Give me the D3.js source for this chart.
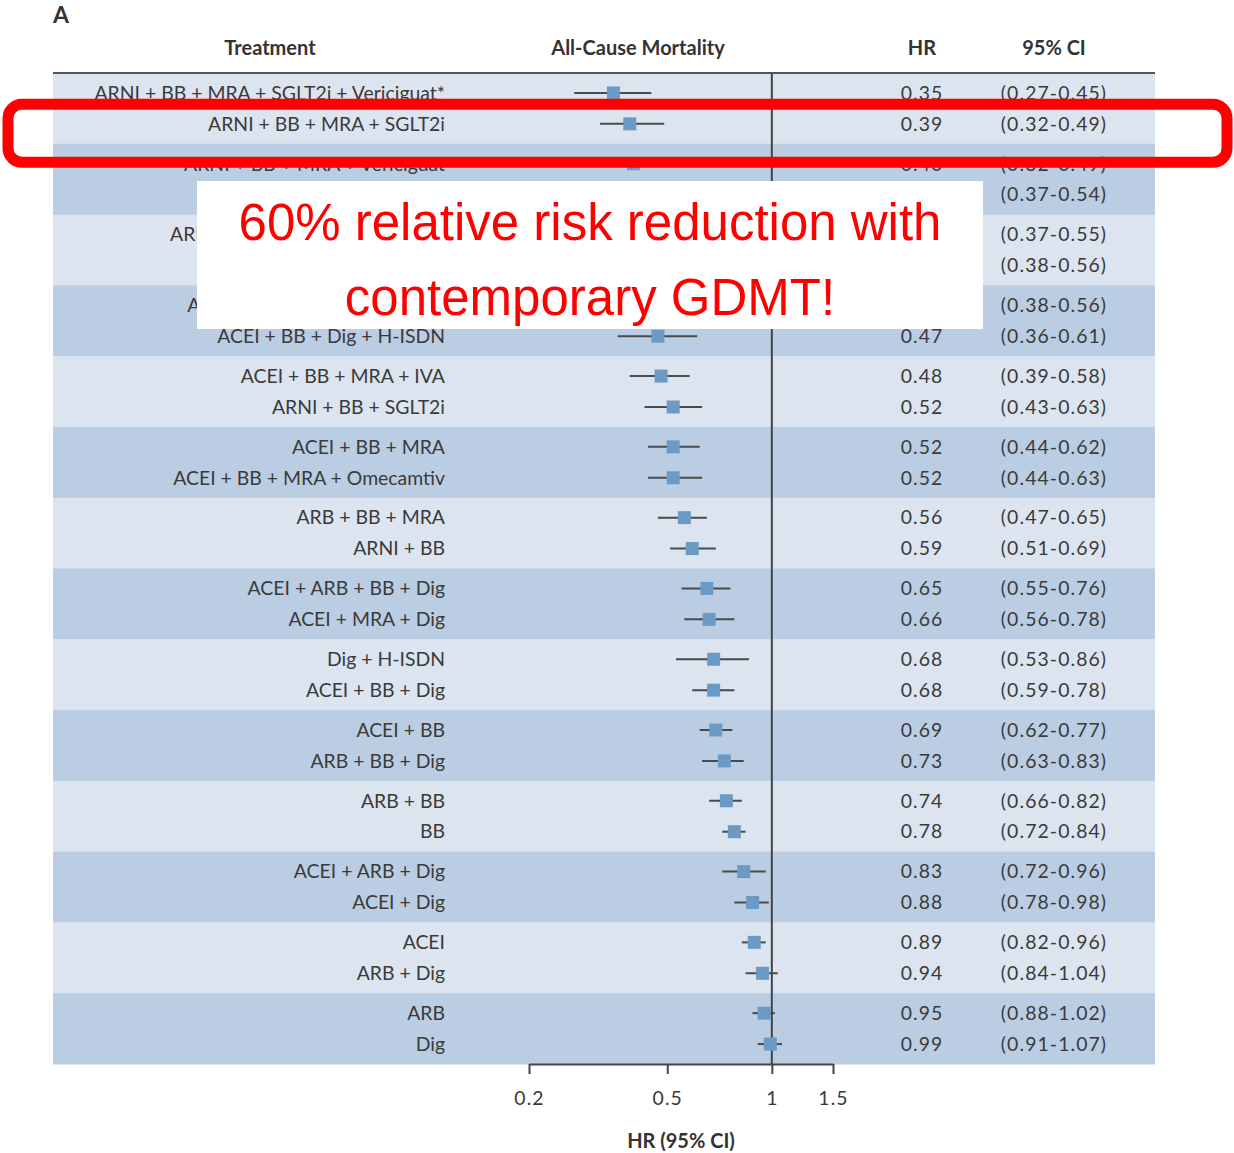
<!DOCTYPE html>
<html>
<head>
<meta charset="utf-8">
<script src="https://cdn.jsdelivr.net/npm/d3@7"></script>
<style>
  body { margin: 0; background: #fff; }
  svg { display: block; }
</style>
</head>
<body>
<div id="chart"></div>
<script>
// rows, top to bottom
const treatments = [
  "ARNI + BB + MRA + SGLT2i + Vericiguat*",
  "ARNI + BB + MRA + SGLT2i",
  "ARNI + BB + MRA + Vericiguat",
  "ARNI + BB + MRA",
  "ARNI + BB + MRA + Omecamtiv",
  "ACEI + BB + MRA + SGLT2i",
  "ACEI + BB + MRA + Vericiguat",
  "ACEI + BB + Dig + H-ISDN",
  "ACEI + BB + MRA + IVA",
  "ARNI + BB + SGLT2i",
  "ACEI + BB + MRA",
  "ACEI + BB + MRA + Omecamtiv",
  "ARB + BB + MRA",
  "ARNI + BB",
  "ACEI + ARB + BB + Dig",
  "ACEI + MRA + Dig",
  "Dig + H-ISDN",
  "ACEI + BB + Dig",
  "ACEI + BB",
  "ARB + BB + Dig",
  "ARB + BB",
  "BB",
  "ACEI + ARB + Dig",
  "ACEI + Dig",
  "ACEI",
  "ARB + Dig",
  "ARB",
  "Dig"
];
const hr     = [0.35, 0.39, 0.40, 0.44, 0.45, 0.46, 0.46, 0.47, 0.48, 0.52, 0.52, 0.52, 0.56, 0.59,
                0.65, 0.66, 0.68, 0.68, 0.69, 0.73, 0.74, 0.78, 0.83, 0.88, 0.89, 0.94, 0.95, 0.99];
const ciLow  = [0.27, 0.32, 0.32, 0.37, 0.37, 0.38, 0.38, 0.36, 0.39, 0.43, 0.44, 0.44, 0.47, 0.51,
                0.55, 0.56, 0.53, 0.59, 0.62, 0.63, 0.66, 0.72, 0.72, 0.78, 0.82, 0.84, 0.88, 0.91];
const ciHigh = [0.45, 0.49, 0.49, 0.54, 0.55, 0.56, 0.56, 0.61, 0.58, 0.63, 0.62, 0.63, 0.65, 0.69,
                0.76, 0.78, 0.86, 0.78, 0.77, 0.83, 0.82, 0.84, 0.96, 0.98, 0.96, 1.04, 1.02, 1.07];
const xTicks = [0.2, 0.5, 1, 1.5];
const headers = ["Treatment", "All-Cause Mortality", "HR", "95% CI"];
const callout = ["60% relative risk reduction with", "contemporary GDMT!"];
const highlightRow = 1;

const width = 1234, height = 1153;
const table = { left: 53, right: 1155, top: 73, bottom: 1064 };
const col = { label: 445, hr: 922, ci: 1054 };
const font = "Lato, 'Open Sans', sans-serif";
const textColor = "#3a3a3a";
const numSpacing = "1.1px"; // digits in the source font run wider

const svg = d3.select("#chart").append("svg")
  .attr("width", width)
  .attr("height", height)
  .attr("viewBox", [0, 0, width, height]);

const x = d3.scaleLog().domain([0.2, 1.5]).range([529, 833]);

// rows come in pairs sharing a shaded band
const groups = d3.range(treatments.length / 2);
const band = d3.scaleBand().domain(groups).range([table.top, table.bottom]);
const inner = d3.scalePoint().domain([0, 1]).range([0, band.bandwidth()]).padding(0.645);
const rowY = i => band(Math.floor(i / 2)) + inner(i % 2);
const fmt = d3.format(".2f");

svg.selectAll("rect.band")
  .data(groups)
  .join("rect")
  .attr("class", "band")
  .attr("x", table.left)
  .attr("y", d => band(d))
  .attr("width", table.right - table.left)
  .attr("height", band.bandwidth() + 0.5)
  .attr("fill", d => d % 2 ? "#bacde2" : "#dce4ef");

// panel letter
svg.append("text")
  .attr("x", 53).attr("y", 23)
  .attr("font-family", font).attr("font-size", 23).attr("font-weight", 700)
  .attr("fill", "#333")
  .text("A");

// headers
const headerX = [270, 638, col.hr, col.ci];
svg.selectAll("text.header")
  .data(headers)
  .join("text")
  .attr("class", "header")
  .attr("x", (_, i) => headerX[i])
  .attr("y", 48)
  .attr("dy", "0.35em")
  .attr("text-anchor", "middle")
  .attr("font-family", font).attr("font-size", 20).attr("font-weight", 700)
  .attr("fill", "#333")
  .text(d => d);

svg.append("line")
  .attr("x1", table.left).attr("x2", table.right)
  .attr("y1", table.top).attr("y2", table.top)
  .attr("stroke", "#555").attr("stroke-width", 2);

// reference line at HR = 1
svg.append("line")
  .attr("x1", x(1)).attr("x2", x(1))
  .attr("y1", table.top).attr("y2", table.bottom)
  .attr("stroke", "#444").attr("stroke-width", 2);

// CI whiskers and point estimates
const rows = d3.range(treatments.length);
svg.selectAll("line.ci")
  .data(rows)
  .join("line")
  .attr("class", "ci")
  .attr("x1", i => x(ciLow[i])).attr("x2", i => x(ciHigh[i]))
  .attr("y1", i => rowY(i)).attr("y2", i => rowY(i))
  .attr("stroke", "#4a4a4a").attr("stroke-width", 2);

const size = 13;
svg.selectAll("rect.pt")
  .data(rows)
  .join("rect")
  .attr("class", "pt")
  .attr("x", i => x(hr[i]) - size / 2)
  .attr("y", i => rowY(i) - size / 2)
  .attr("width", size).attr("height", size)
  .attr("fill", "#6b9bc5");

// text columns
const rowText = (cls, anchor, xPos, spacing, fn) => svg.selectAll("text." + cls)
  .data(rows)
  .join("text")
  .attr("class", cls)
  .attr("x", xPos)
  .attr("y", i => rowY(i))
  .attr("dy", "0.35em")
  .attr("text-anchor", anchor)
  .attr("font-family", font).attr("font-size", 19.4)
  .attr("letter-spacing", spacing)
  .attr("fill", textColor)
  .text(fn);

rowText("label", "end", col.label, null, i => treatments[i]);
rowText("hr", "middle", col.hr, numSpacing, i => fmt(hr[i]));
rowText("cilab", "middle", col.ci, numSpacing, i => "(" + fmt(ciLow[i]) + "-" + fmt(ciHigh[i]) + ")");

// axis
const axis = svg.append("g")
  .attr("transform", "translate(0," + table.bottom + ")")
  .call(d3.axisBottom(x).tickValues(xTicks).tickFormat(d3.format("")).tickSize(10).tickSizeOuter(0).tickPadding(17));
axis.select(".domain").attr("stroke", "#444").attr("stroke-width", 2);
axis.selectAll(".tick line").attr("stroke", "#444").attr("stroke-width", 2);
axis.selectAll(".tick text")
  .attr("font-family", font).attr("font-size", 19.4)
  .attr("letter-spacing", numSpacing)
  .attr("fill", textColor);

svg.append("text")
  .attr("x", 681).attr("y", 1141)
  .attr("dy", "0.35em")
  .attr("text-anchor", "middle")
  .attr("font-family", font).attr("font-size", 20).attr("font-weight", 700)
  .attr("fill", "#333")
  .text("HR (95% CI)");

// annotation overlay
svg.append("rect")
  .attr("x", 8).attr("y", rowY(highlightRow) - 19.5)
  .attr("width", 1219).attr("height", 58)
  .attr("rx", 14)
  .attr("fill", "none")
  .attr("stroke", "#ff0000").attr("stroke-width", 11);

svg.append("rect")
  .attr("x", 197).attr("y", 181)
  .attr("width", 786).attr("height", 148)
  .attr("fill", "#fff");

svg.selectAll("text.callout")
  .data(callout)
  .join("text")
  .attr("class", "callout")
  .attr("x", 590)
  .attr("y", (_, i) => 240 + i * 75)
  .attr("text-anchor", "middle")
  .attr("font-family", "'Liberation Sans', Arial, sans-serif")
  .attr("font-size", 51)
  .attr("fill", "#ff0000")
  .text(d => d);
</script>
</body>
</html>
